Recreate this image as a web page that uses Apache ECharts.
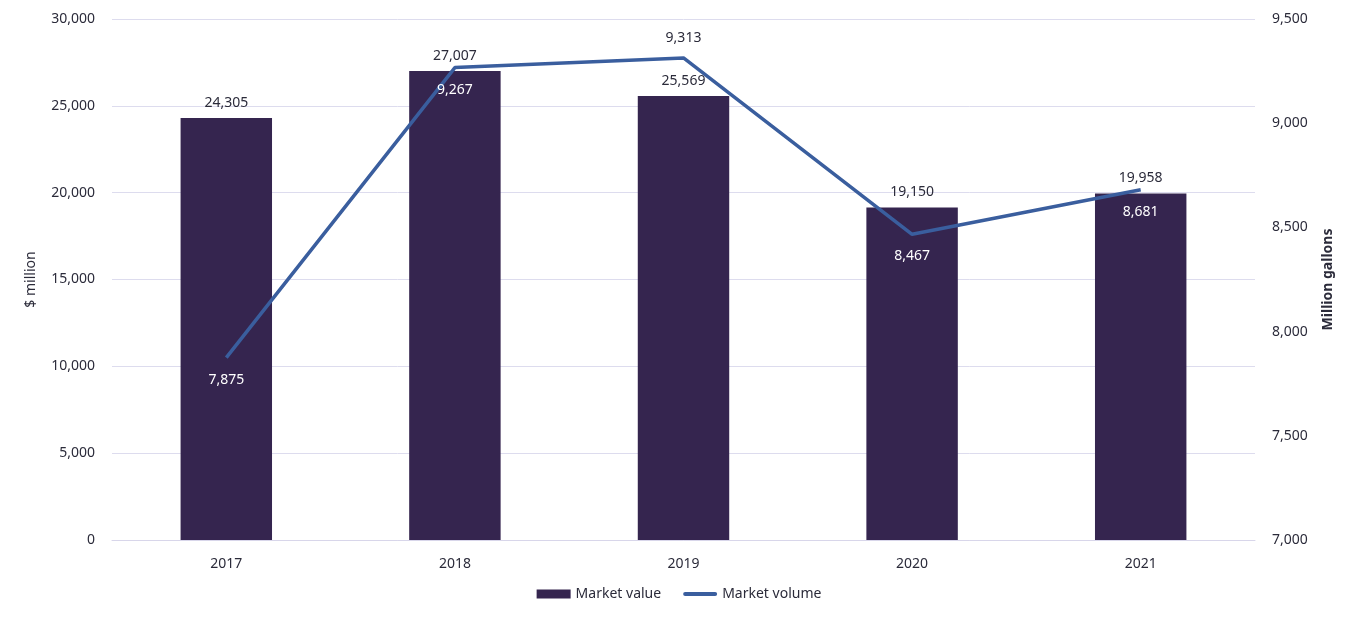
<!DOCTYPE html>
<html>
<head>
<meta charset="utf-8">
<script src="https://cdn.jsdelivr.net/npm/echarts@6/dist/echarts.min.js"></script>
<style>
  html, body { margin: 0; padding: 0; background: #fff; }
  #chart { width: 1358px; height: 622px; }
</style>
</head>
<body>
<div id="chart"></div>
<script>
var years = ['2017', '2018', '2019', '2020', '2021'];
var marketValue = [24305, 27007, 25569, 19150, 19958];
var marketVolume = [7875, 9267, 9313, 8467, 8681];

var font = 'Noto Sans';
var textColor = '#2b2b3a';

var myChart = echarts.init(document.getElementById('chart'));

// volume labels sit inside the bars (white), except 2019 which is above
var volumeData = marketVolume.map(function(v, i) {
    if (i === 2) {
        return { value: v, label: { position: 'top', color: textColor, distance: 13 } };
    }
    return v;
});

var fmt = function(p) { return p.value.toLocaleString('en-US'); };

var option = {
    textStyle: { fontFamily: font },
    grid: { left: 112, right: 103, top: 19, bottom: 82 },
    legend: {
        bottom: 16,
        left: 'center',
        itemGap: 22,
        itemWidth: 34,
        itemHeight: 9,
        textStyle: { fontFamily: font, fontSize: 14, color: textColor },
        data: [
            { name: 'Market value', icon: 'rect' },
            { name: 'Market volume', icon: 'path://M2,0 L32,0 A2,2 0 0 1 32,4 L2,4 A2,2 0 0 1 2,0 Z' }
        ]
    },
    xAxis: {
        type: 'category',
        data: years,
        axisLine: { lineStyle: { color: '#d8d6ea' } },
        axisTick: { show: false },
        axisLabel: { color: textColor, fontSize: 14, margin: 17, fontFamily: font }
    },
    yAxis: [
        {
            type: 'value',
            min: 0,
            max: 30000,
            interval: 5000,
            name: '$ million',
            nameLocation: 'middle',
            nameGap: 74,
            nameTextStyle: { color: textColor, fontSize: 14, fontFamily: font },
            axisLabel: {
                color: textColor, fontSize: 14, margin: 17,
                formatter: function(v) { return v.toLocaleString('en-US'); }
            },
            splitLine: { lineStyle: { color: '#dddcee' } }
        },
        {
            type: 'value',
            min: 7000,
            max: 9500,
            interval: 500,
            name: 'Million gallons',
            nameLocation: 'middle',
            nameGap: 66,
            nameTextStyle: { color: textColor, fontSize: 14, fontWeight: 'bold', fontFamily: font },
            axisLabel: {
                color: textColor, fontSize: 14, margin: 17,
                formatter: function(v) { return v.toLocaleString('en-US'); }
            },
            splitLine: { show: false }
        }
    ],
    series: [
        {
            name: 'Market value',
            type: 'bar',
            barWidth: '40%',
            itemStyle: { color: '#35254f' },
            label: {
                show: true,
                position: 'top',
                distance: 8,
                color: textColor,
                fontSize: 14,
                formatter: fmt
            },
            data: marketValue
        },
        {
            name: 'Market volume',
            type: 'line',
            yAxisIndex: 1,
            symbol: 'circle',
            symbolSize: 0,
            lineStyle: { color: '#3a5e9e', width: 3.5 },
            itemStyle: { color: '#3a5e9e' },
            label: {
                show: true,
                position: 'bottom',
                distance: 15,
                color: '#ffffff',
                fontSize: 14,
                formatter: fmt
            },
            data: volumeData
        }
    ]
};

myChart.setOption(option, true);
</script>
</body>
</html>
